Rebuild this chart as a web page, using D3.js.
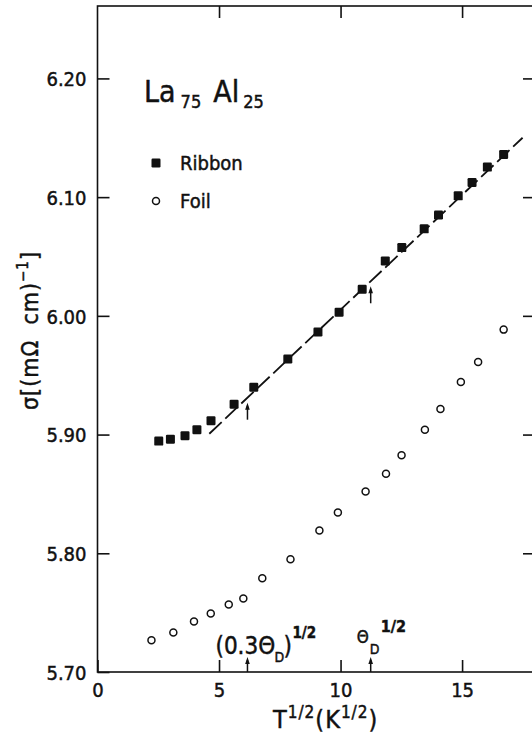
<!DOCTYPE html>
<html>
<head>
<meta charset="utf-8">
<script src="https://cdn.jsdelivr.net/npm/d3@7"></script>
<style>
  html, body { margin: 0; padding: 0; background: #fff; }
  svg { display: block; }
  text { font-family: "DejaVu Sans Condensed", "DejaVu Sans", sans-serif; fill: #111; stroke: #111; stroke-width: 0.45px; }
</style>
</head>
<body>
<svg id="chart" width="532" height="736"></svg>
<script>
// ---- data ----
const ribbonT     = [2.52, 3.00, 3.60, 4.09, 4.67, 5.62, 6.43, 7.83, 9.07, 9.94, 10.89, 11.84, 12.52, 13.44, 14.03, 14.84, 15.41, 16.04, 16.71];
const ribbonSigma = [5.8945, 5.896, 5.899, 5.904, 5.9117, 5.9255, 5.9398, 5.9637, 5.9864, 6.003, 6.0224, 6.0463, 6.0575, 6.0733, 6.085, 6.1011, 6.1123, 6.1253, 6.1359];
const foilT       = [2.22, 3.12, 3.97, 4.66, 5.40, 6.00, 6.78, 7.94, 9.13, 9.89, 11.03, 11.87, 12.51, 13.47, 14.11, 14.95, 15.66, 16.71];
const foilSigma   = [5.7267, 5.7332, 5.7425, 5.7492, 5.7568, 5.7619, 5.779, 5.795, 5.8192, 5.8344, 5.8521, 5.867, 5.8825, 5.904, 5.9215, 5.9443, 5.9611, 5.9884];
const fitT        = [4.6, 17.49];
const fitSigma    = [5.9007, 6.150];
const markerT     = [6.17, 11.24];   // (0.3ΘD)^1/2 and ΘD^1/2
const xTicks      = [0, 5, 10, 15];
const yTicks      = [5.70, 5.80, 5.90, 6.00, 6.10, 6.20];
const xDomain     = [0, 18];
const yDomain     = [5.70, 6.261];

// ---- layout ----
const svg = d3.select("#chart");
const L = 97.5, R = 535, T = 6, B = 672;
const x = d3.scaleLinear().domain(xDomain).range([L, R]);
const y = d3.scaleLinear().domain(yDomain).range([B, T]);

// frame
svg.append("rect").attr("x", L).attr("y", T).attr("width", R - L).attr("height", B - T)
  .attr("fill", "none").attr("stroke", "#111").attr("stroke-width", 1.6);

// axes
const fmtY = d3.format(".2f");
const gL = svg.append("g").attr("transform", `translate(${L},0)`)
  .call(d3.axisLeft(y).tickValues(yTicks).tickFormat(fmtY).tickSize(-12).tickPadding(11));
const gB = svg.append("g").attr("transform", `translate(0,${B})`)
  .call(d3.axisBottom(x).tickValues(xTicks).tickFormat(d3.format("d")).tickSize(-12).tickPadding(11));
const gT = svg.append("g").attr("transform", `translate(0,${T})`)
  .call(d3.axisTop(x).tickValues(xTicks.slice(1)).tickFormat("").tickSize(-12));
const gR = svg.append("g").attr("transform", `translate(${R},0)`)
  .call(d3.axisRight(y).tickValues(yTicks.slice(1)).tickFormat("").tickSize(-12));
[gL, gB, gT, gR].forEach(g => {
  g.select(".domain").remove();
  g.selectAll(".tick line").attr("stroke", "#111").attr("stroke-width", 1.6);
  g.selectAll("text").attr("font-size", 20).attr("fill", "#111")
    .style("font-family", '"DejaVu Sans Condensed", "DejaVu Sans", sans-serif');
});
gL.selectAll("text").attr("dy", "0.36em");

// fit line (dashed)
const line = d3.line().x(d => x(d[0])).y(d => y(d[1]));
svg.append("path").datum(fitT.map((t, i) => [t, fitSigma[i]]))
  .attr("d", line).attr("fill", "none").attr("stroke", "#111")
  .attr("stroke-width", 1.8).attr("stroke-dasharray", "17,5");

// ribbon squares
const sq = 9;
svg.append("g").selectAll("rect").data(ribbonT.map((t, i) => [t, ribbonSigma[i]]))
  .join("rect")
  .attr("x", d => x(d[0]) - sq / 2).attr("y", d => y(d[1]) - sq / 2)
  .attr("width", sq).attr("height", sq).attr("rx", 1.2)
  .attr("fill", "#111");

// foil circles
svg.append("g").selectAll("circle").data(foilT.map((t, i) => [t, foilSigma[i]]))
  .join("circle")
  .attr("cx", d => x(d[0])).attr("cy", d => y(d[1])).attr("r", 3.5)
  .attr("fill", "#fff").attr("stroke", "#111").attr("stroke-width", 1.5);

// arrows
function arrow(xp, yTip, len) {
  svg.append("line").attr("x1", xp).attr("x2", xp).attr("y1", yTip + len).attr("y2", yTip + 3)
    .attr("stroke", "#111").attr("stroke-width", 1.5);
  svg.append("path").attr("d", `M${xp},${yTip} L${xp - 2.3},${yTip + 7} L${xp + 2.3},${yTip + 7} Z`)
    .attr("fill", "#111");
}
const fitAt = t => fitSigma[0] + (t - fitT[0]) * (fitSigma[1] - fitSigma[0]) / (fitT[1] - fitT[0]);
markerT.forEach(t => {
  arrow(x(t), y(fitAt(t)) + 5, 17);   // on the curve
  arrow(x(t), B - 15, 15);            // on the axis
});

// title
const title = svg.append("text").attr("x", 144).attr("y", 102);
title.append("tspan").attr("font-size", 30).text("La");
title.append("tspan").attr("font-size", 18).attr("dx", 5).attr("dy", 6).text("75");
title.append("tspan").attr("font-size", 30).attr("dx", 12).attr("dy", -6).text("Al");
title.append("tspan").attr("font-size", 18).attr("dx", 4).attr("dy", 6).text("25");

// legend
svg.append("rect").attr("x", 156 - sq / 2).attr("y", 163 - sq / 2).attr("width", sq).attr("height", sq)
  .attr("rx", 1.2).attr("fill", "#111");
svg.append("text").attr("x", 180).attr("y", 170).attr("font-size", 20).text("Ribbon");
svg.append("circle").attr("cx", 156).attr("cy", 201).attr("r", 3.5)
  .attr("fill", "#fff").attr("stroke", "#111").attr("stroke-width", 1.5);
svg.append("text").attr("x", 180).attr("y", 208).attr("font-size", 20).text("Foil");

// annotations near the axis
const a1 = x(markerT[0]);
svg.append("text").attr("x", a1 - 32).attr("y", 654).attr("font-size", 24).text("(0.3Θ");
svg.append("text").attr("x", a1 + 27).attr("y", 662).attr("font-size", 14).text("D");
svg.append("text").attr("x", a1 + 36).attr("y", 654).attr("font-size", 24).text(")");
svg.append("text").attr("x", a1 + 45).attr("y", 638).attr("font-size", 15).attr("font-weight", "bold").text("1/2");
const a2 = x(markerT[1]);
svg.append("text").attr("x", a2 - 14).attr("y", 643).attr("font-size", 17).text("Θ");
svg.append("text").attr("x", a2 - 1).attr("y", 654).attr("font-size", 14).text("D");
svg.append("text").attr("x", a2 + 10).attr("y", 632).attr("font-size", 16).attr("font-weight", "bold").text("1/2");

// x-axis title
const xt = svg.append("text").attr("x", 273).attr("y", 728).attr("font-size", 25).attr("letter-spacing", 1);
xt.append("tspan").text("T");
xt.append("tspan").attr("font-size", 17).attr("dy", -10).text("1/2");
xt.append("tspan").attr("dy", 10).text("(K");
xt.append("tspan").attr("font-size", 17).attr("dy", -10).text("1/2");
xt.append("tspan").attr("dy", 10).text(")");

// y-axis title
const yt = svg.append("text").attr("transform", "translate(38,410) rotate(-90)")
  .attr("font-size", 23).attr("letter-spacing", 1);
yt.append("tspan").text("σ");
yt.append("tspan").text("[(mΩ\u00A0\u00A0cm)");
yt.append("tspan").attr("font-size", 15).attr("dy", -10).text("−1");
yt.append("tspan").attr("dy", 10).text("]");
</script>
</body>
</html>
